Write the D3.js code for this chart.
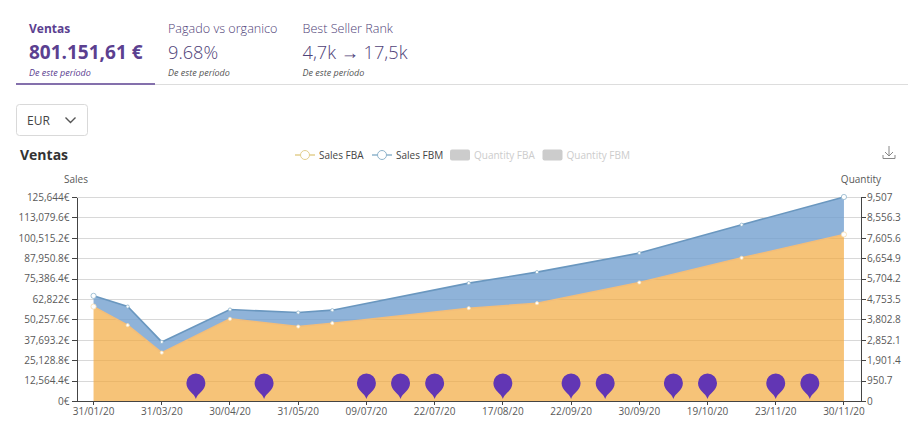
<!DOCTYPE html>
<html>
<head>
<meta charset="utf-8">
<script src="https://d3js.org/d3.v7.min.js"></script>
<style>
  html, body { margin: 0; padding: 0; background: #fff; overflow: hidden; }
  text { font-family: "Open Sans", "Noto Sans", sans-serif; }
  .axis text { font-size: 10px; fill: #595959; }
  .axis path, .axis line { stroke: #444; shape-rendering: crispEdges; }
</style>
</head>
<body>
<svg id="chart" width="922" height="422"></svg>
<script>
// 23 categories, only every second one gets a label
var tickLabels = ['31/01/20','31/03/20','30/04/20','31/05/20','09/07/20','22/07/20','17/08/20','22/09/20','30/09/20','19/10/20','23/11/20','30/11/20'];
var categories = d3.range(23);

// index of the category each reading belongs to (the rest are empty and get connected)
var pointIndex = [0, 1, 2, 4, 6, 7, 11, 13, 16, 19, 22];
var salesFBA = [58160, 46690, 29790, 50580, 45830, 47925, 57175, 60260, 72970, 88200, 102570];
var salesFBM = [6600, 11470, 6600, 5740, 8640, 8020, 15420, 19120, 18130, 20350, 23074];

// event pins
var pinIndex = [3, 5, 8, 9, 10, 12, 14, 15, 17, 18, 20, 21];

var salesTicks = [0, 12564.4, 25128.8, 37693.2, 50257.6, 62822, 75386.4, 87950.8, 100515.2, 113079.6, 125644];
var quantityTicks = [0, 950.7, 1901.4, 2852.1, 3802.8, 4753.5, 5704.2, 6654.9, 7605.6, 8556.3, 9507];

var tabs = [
  { name: 'Ventas', value: '801.151,61 €', note: 'De este período', x: 29, active: true },
  { name: 'Pagado vs organico', value: '9.68%', note: 'De este período', x: 168, active: false },
  { name: 'Best Seller Rank', value: '4,7k → 17,5k', note: 'De este período', x: 302.5, active: false }
];
var legendItems = [
  { label: 'Sales FBA', color: '#e3cf8f', x: 295, on: true },
  { label: 'Sales FBM', color: '#8fb4cc', x: 372, on: true },
  { label: 'Quantity FBA', color: '#ccc', x: 450, on: false },
  { label: 'Quantity FBM', color: '#ccc', x: 542.5, on: false }
];

var purple = '#5b4090';
var svg = d3.select('#chart');

/*************** HEADER ***************/
var tab = svg.selectAll('.tab').data(tabs).enter().append('g')
  .attr('class', 'tab')
  .attr('transform', d => 'translate(' + d.x + ',0)');

tab.append('text').attr('y', 33).text(d => d.name)
  .attr('font-size', d => d.active ? 12 : 12.6)
  .attr('font-weight', d => d.active ? 700 : 300)
  .attr('fill', d => d.active ? purple : '#4f4278');

tab.append('text').attr('y', 59).text(d => d.value)
  .attr('font-size', d => d.active ? 19 : 18.2)
  .attr('font-weight', d => d.active ? 700 : 300)
  .attr('fill', d => d.active ? purple : '#4f4278');

tab.append('text').attr('y', 76).text(d => d.note)
  .attr('font-size', 9)
  .attr('font-style', 'italic')
  .attr('fill', d => d.active ? purple : '#555');

svg.append('line').attr('x1', 155).attr('x2', 908).attr('y1', 84.5).attr('y2', 84.5)
  .attr('stroke', '#ddd');
svg.append('line').attr('x1', 16).attr('x2', 155).attr('y1', 84).attr('y2', 84)
  .attr('stroke', purple).attr('stroke-width', 1.5);

// currency select
svg.append('rect').attr('x', 16.5).attr('y', 104.5).attr('width', 71).attr('height', 31).attr('rx', 3)
  .attr('fill', '#fff').attr('stroke', '#d9d9d9');
svg.append('text').attr('x', 27).attr('y', 125).attr('font-size', 12).attr('fill', '#444').text('EUR');
svg.append('path').attr('d', 'M65.5 117.5l5 5 5-5').attr('fill', 'none').attr('stroke', '#555').attr('stroke-width', 1.4);

svg.append('text').attr('x', 20).attr('y', 160).attr('font-size', 14).attr('font-weight', 700).attr('fill', '#333').text('Ventas');

/*************** LEGEND ***************/
var legend = svg.selectAll('.legend').data(legendItems).enter().append('g')
  .attr('class', 'legend')
  .attr('transform', d => 'translate(' + d.x + ',155)');

legend.filter(d => d.on).append('line').attr('x2', 20).attr('stroke', d => d.color).attr('stroke-width', 1.5);
legend.filter(d => d.on).append('circle').attr('cx', 10).attr('r', 4.5).attr('fill', '#fff').attr('stroke', d => d.color);
legend.filter(d => !d.on).append('rect').attr('y', -5.5).attr('width', 20).attr('height', 11).attr('rx', 2).attr('fill', d => d.color);
legend.append('text').attr('x', 24).attr('y', 3.5).attr('font-size', 10)
  .attr('fill', d => d.on ? '#444' : '#ccc').text(d => d.label);

// download icon
svg.append('path').attr('d', 'M889 146v10M885 152l4 4 4-4M883 155v3.5h12V155')
  .attr('fill', 'none').attr('stroke', '#888').attr('stroke-width', 1);

/*************** CHART ***************/
var plotLeft = 76.5, plotRight = 861, plotTop = 197, plotBottom = 401;

var x = d3.scaleBand().domain(categories).range([plotLeft, plotRight]);
var ySales = d3.scaleLinear().domain([0, 125644]).range([plotBottom, plotTop]);
var yQuantity = d3.scaleLinear().domain([0, 9507]).range([plotBottom, plotTop]);
var cx = i => x(i) + x.bandwidth() / 2;

var rows = pointIndex.map((c, i) => ({ c: c, fba: salesFBA[i], total: salesFBA[i] + salesFBM[i] }));

// gridlines
svg.append('g').selectAll('line').data(salesTicks.slice(1)).enter().append('line')
  .attr('x1', plotLeft).attr('x2', plotRight)
  .attr('y1', d => Math.round(ySales(d)) + 0.5).attr('y2', d => Math.round(ySales(d)) + 0.5)
  .attr('stroke', '#d8d8d8');

var areaFBM = d3.area().x(d => cx(d.c)).y0(d => ySales(d.fba)).y1(d => ySales(d.total));
var areaFBA = d3.area().x(d => cx(d.c)).y0(ySales(0)).y1(d => ySales(d.fba));
var lineFBM = d3.line().x(d => cx(d.c)).y(d => ySales(d.total));
var lineFBA = d3.line().x(d => cx(d.c)).y(d => ySales(d.fba));

svg.append('path').datum(rows).attr('d', areaFBA).attr('fill', '#f2a93f').attr('fill-opacity', 0.7);
svg.append('path').datum(rows).attr('d', areaFBM).attr('fill', '#6f9dce').attr('fill-opacity', 0.78);
svg.append('path').datum(rows).attr('d', lineFBA).attr('fill', 'none').attr('stroke', '#f3bd78').attr('stroke-width', 1.5);
svg.append('path').datum(rows).attr('d', lineFBM).attr('fill', 'none').attr('stroke', '#6a97bf').attr('stroke-width', 1.6);

// first and last points are drawn a bit bigger
var pointR = (d, i) => (i === 0 || i === rows.length - 1) ? 2.6 : 1.6;

svg.append('g').selectAll('circle').data(rows).enter().append('circle')
  .attr('cx', d => cx(d.c)).attr('cy', d => ySales(d.fba)).attr('r', pointR)
  .attr('fill', '#fff').attr('stroke', '#f6dcae').attr('stroke-width', 0.8);
svg.append('g').selectAll('circle').data(rows).enter().append('circle')
  .attr('cx', d => cx(d.c)).attr('cy', d => ySales(d.total)).attr('r', pointR)
  .attr('fill', '#fff').attr('stroke', '#8fb4cc').attr('stroke-width', 0.8);

// axes
svg.append('g').attr('class', 'axis')
  .attr('transform', 'translate(' + plotLeft + ',0)')
  .call(d3.axisLeft(ySales).tickValues(salesTicks).tickSize(5).tickSizeOuter(0).tickPadding(2).tickFormat(d => d3.format(',')(d) + '€'));

svg.append('g').attr('class', 'axis')
  .attr('transform', 'translate(' + plotRight + ',0)')
  .call(d3.axisRight(yQuantity).tickValues(quantityTicks).tickSize(5).tickSizeOuter(0).tickPadding(1).tickFormat(d3.format(',')));

var labelled = categories.filter(c => c % 2 === 0);
svg.append('g').attr('class', 'axis')
  .attr('transform', 'translate(0,' + plotBottom + ')')
  .call(d3.axisBottom(x).tickValues(labelled).tickSize(4).tickSizeOuter(0).tickPadding(3).tickFormat((d, i) => tickLabels[i]));

svg.append('text').attr('x', 76).attr('y', 183).attr('text-anchor', 'middle').attr('font-size', 10).attr('fill', '#595959').text('Sales');
svg.append('text').attr('x', 861).attr('y', 183).attr('text-anchor', 'middle').attr('font-size', 10).attr('fill', '#595959').text('Quantity');

// event pins, tip sits on the zero line
var pin = 'M0 -2C-1.5 -8 -9.5 -10 -9.5 -18A9.5 9.5 0 1 1 9.5 -18C9.5 -10 1.5 -8 0 -2Z';
svg.append('g').selectAll('path').data(pinIndex).enter().append('path')
  .attr('d', pin)
  .attr('transform', d => 'translate(' + cx(d) + ',' + ySales(0) + ')')
  .attr('fill', '#6236b4');
</script>
</body>
</html>
